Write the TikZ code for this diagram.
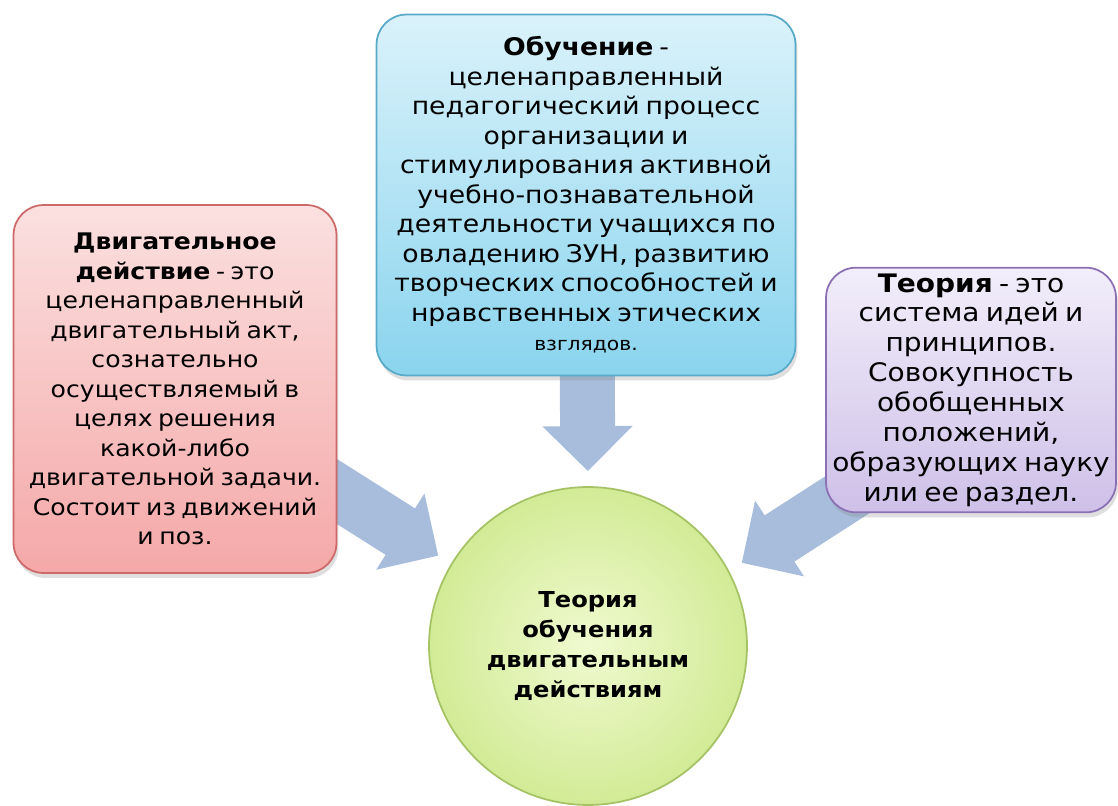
\documentclass[tikz,border=0pt]{standalone}
\usepackage{fontspec}
\setmainfont{DejaVu Sans}[FakeStretch=1.1, WordSpace=0.7]
\usetikzlibrary{arrows.meta,shadows,backgrounds}
\definecolor{redtop}{RGB}{251,224,224}
\definecolor{redbot}{RGB}{245,168,168}
\definecolor{redline}{RGB}{205,105,105}
\definecolor{bluetop}{RGB}{218,242,250}
\definecolor{bluebot}{RGB}{138,212,238}
\definecolor{blueline}{RGB}{88,170,200}
\definecolor{violettop}{RGB}{242,238,250}
\definecolor{violetbot}{RGB}{206,192,232}
\definecolor{violetline}{RGB}{140,112,180}
\definecolor{greenin}{RGB}{240,250,208}
\definecolor{greenout}{RGB}{210,235,150}
\definecolor{greenline}{RGB}{165,195,100}
\definecolor{arrowblue}{RGB}{168,189,220}

\begin{document}
\begin{tikzpicture}[x=0.02cm,y=-0.02cm,
        box/.style={rounded corners=0.6cm, draw, line width=1pt, align=center,
            drop shadow={opacity=0.25, shadow xshift=0.04cm, shadow yshift=-0.1cm}},
        bigarrow/.style={draw=arrowblue, line width=1.1cm,
            -{Triangle[length=0.9cm, width=1.75cm]}, shorten >=0.3cm}]
        \useasboundingbox (0,0) rectangle (1118,805);
        \node[box, draw=redline, top color=redtop, bottom color=redbot,
            minimum width=6.46cm, minimum height=7.36cm,
            font=\fontsize{13}{16.8}\selectfont] (action) at (175,389)
            {{\bfseries Двигательное}\\{\bfseries действие} - это\\целенаправленный\\двигательный акт,\\сознательно\\осуществляемый в\\целях решения\\какой-либо\\двигательной задачи.\\Состоит из движений\\и поз.};
        \node[box, draw=blueline, top color=bluetop, bottom color=bluebot,
            minimum width=8.38cm, minimum height=7.22cm,
            font=\fontsize{13.8}{16.8}\selectfont] (learning) at (586,195)
            {{\bfseries Обучение} -\\целенаправленный\\педагогический процесс\\организации и\\стимулирования активной\\учебно-познавательной\\деятельности учащихся по\\овладению ЗУН, развитию\\творческих способностей и\\нравственных этических\\{\fontsize{10.5}{16.8}\selectfont взглядов.}};
        \node[box, draw=violetline, top color=violettop, bottom color=violetbot,
            minimum width=5.8cm, minimum height=4.82cm,
            font=\fontsize{14.5}{17}\selectfont] (theory) at (971,390)
            {{\bfseries Теория} - это\\система идей и\\принципов.\\Совокупность\\обобщенных\\положений,\\образующих науку\\или ее раздел.};
        \node[circle, draw=greenline, line width=1pt, inner color=greenin, outer color=greenout,
            minimum size=6.36cm, align=center,
            font=\fontsize{12.5}{17}\selectfont\bfseries] (centre) at (588,646)
            {Теория\\обучения\\двигательным\\действиям};
        \begin{scope}[on background layer]
            \foreach \s/\a/\d in {action/149/0,learning/90/0,theory/28/-0.5}
                \draw[bigarrow] ([yshift=\d cm]\s.center) -- (centre.\a);
        \end{scope}
\end{tikzpicture}
\end{document}
